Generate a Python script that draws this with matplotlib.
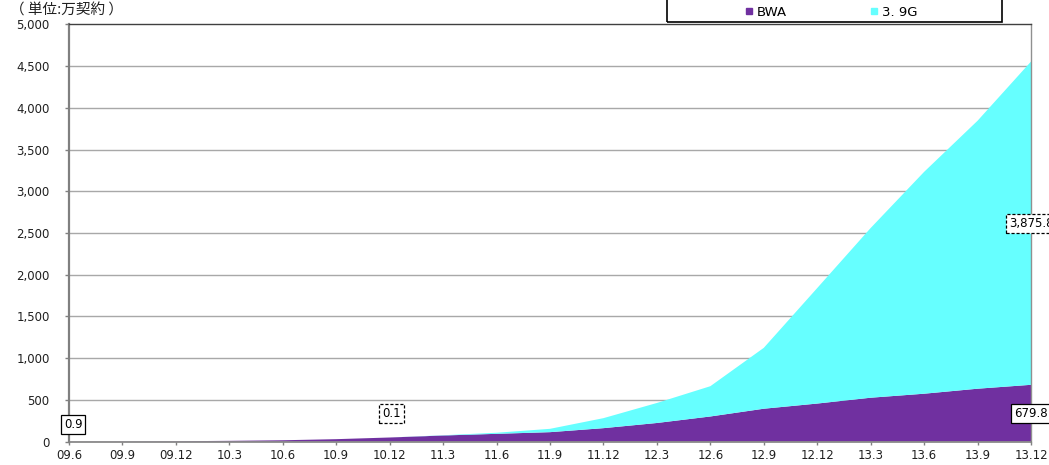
import matplotlib
matplotlib.use("Agg")
import matplotlib.pyplot as plt
from matplotlib.lines import Line2D
from matplotlib.patches import Rectangle

plt.rcParams['font.family'] = ['DejaVu Sans', 'Noto Sans CJK JP']

# Quarter-end labels (YY.M)
quarters = ["09.6", "09.9", "09.12", "10.3", "10.6", "10.9", "10.12",
            "11.3", "11.6", "11.9", "11.12", "12.3", "12.6", "12.9",
            "12.12", "13.3", "13.6", "13.9", "13.12"]

# Subscriptions, 10k contracts
bwa = [0.9, 1.5, 3, 8, 15, 28, 48, 72, 92, 112, 160, 222, 300, 393,
       455, 525, 573, 633, 679.8]
g39 = [0, 0, 0, 0, 0, 0, 0.1, 3, 13, 40, 120, 240, 363, 730,
       1385, 2035, 2660, 3213, 3875.8]

yticks = [0, 500, 1000, 1500, 2000, 2500, 3000, 3500, 4000, 4500, 5000]
ytick_labels = ["0", "500", "1,000", "1,500", "2,000", "2,500", "3,000",
                "3,500", "4,000", "4,500", "5,000"]

series_names = ["BWA", "3. 9G"]
colors = ["#7030A0", "#66FFFF"]

W, H = 1049, 465
fig = plt.figure(figsize=(W / 100, H / 100), dpi=100)
ax = fig.add_axes([69 / W, 1 - 441.5 / H, (1031 - 69) / W, (441.5 - 24.5) / H])

x = list(range(len(quarters)))
ax.stackplot(x, bwa, g39, colors=colors, linewidth=0, zorder=2)

ax.set_xlim(0, len(quarters) - 1)
ax.set_ylim(0, 5000)
ax.set_xticks(x)
ax.set_xticklabels(quarters)
ax.set_yticks(yticks)
ax.set_yticklabels(ytick_labels)

for y in yticks[1:-1]:
    ax.axhline(y, color="#A8A8A8", linewidth=1.0, zorder=1)

ax.spines['left'].set_color("#808080")
ax.spines['left'].set_linewidth(1.6)
ax.spines['bottom'].set_color("#808080")
ax.spines['bottom'].set_linewidth(1.2)
ax.spines['top'].set_color("#404040")
ax.spines['top'].set_linewidth(1.0)
ax.spines['right'].set_color("#909090")
ax.spines['right'].set_linewidth(1.0)
for s in ax.spines.values():
    s.set_zorder(3)

ax.tick_params(axis='y', direction='out', length=3, width=1, color="#808080",
               pad=11, labelsize=8.5, labelcolor="#202020")
ax.tick_params(axis='x', direction='out', length=2.5, width=1, color="#808080",
               pad=3, labelsize=8.5, labelcolor="#202020")

fig.text(10 / W, 1 - 10.5 / H, "（ 単位:万契約 ）", fontsize=10.5,
         family=['Noto Sans CJK JP'], color="#202020", va='center', ha='left')

# Value labels
solid = dict(boxstyle="square,pad=0.25", fc="white", ec="black", lw=0.9)
dashed = dict(boxstyle="square,pad=0.25", fc="white", ec="black", lw=0.9,
              ls=(0, (2.5, 1.5)))

ax.annotate(f"{bwa[0]:.1f}", xy=(0, bwa[0] / 2), xytext=(3, 12.5),
            textcoords='offset points', ha='center', va='center',
            fontsize=8.5, bbox=solid, annotation_clip=False, zorder=5)
ax.annotate(f"{g39[6]:.1f}", xy=(6, bwa[6] + g39[6] / 2), xytext=(1.5, 17),
            textcoords='offset points', ha='center', va='center',
            fontsize=8.5, bbox=dashed, annotation_clip=False, zorder=5)
ax.annotate(f"{bwa[-1]:,.1f}", xy=(18, bwa[-1] / 2), xytext=(0, 0),
            textcoords='offset points', ha='center', va='center',
            fontsize=8.5, bbox=solid, annotation_clip=False, zorder=5)
ax.annotate(f"{g39[-1]:,.1f}", xy=(18, bwa[-1] + g39[-1] / 2), xytext=(0, 0),
            textcoords='offset points', ha='center', va='center',
            fontsize=8.5, bbox=dashed, annotation_clip=False, zorder=5)

# Legend: box outline plus entries
fig.add_artist(Rectangle((667 / W, 1 - 22 / H), (1002 - 667) / W, 24 / H,
                         transform=fig.transFigure, fill=False,
                         edgecolor="black", linewidth=1.2, zorder=10))
handles = [Line2D([], [], marker='s', linestyle='none', markersize=4.5,
                  markerfacecolor=c, markeredgecolor=c) for c in colors]
leg = fig.legend(handles, series_names, loc='center left',
                 bbox_to_anchor=(746 / W, 1 - 12 / H),
                 ncol=2, fontsize=9.5, frameon=False,
                 handlelength=0.5, handletextpad=0.3, columnspacing=6.4,
                 borderpad=0, borderaxespad=0)

fig.savefig("out.png", dpi=100)
